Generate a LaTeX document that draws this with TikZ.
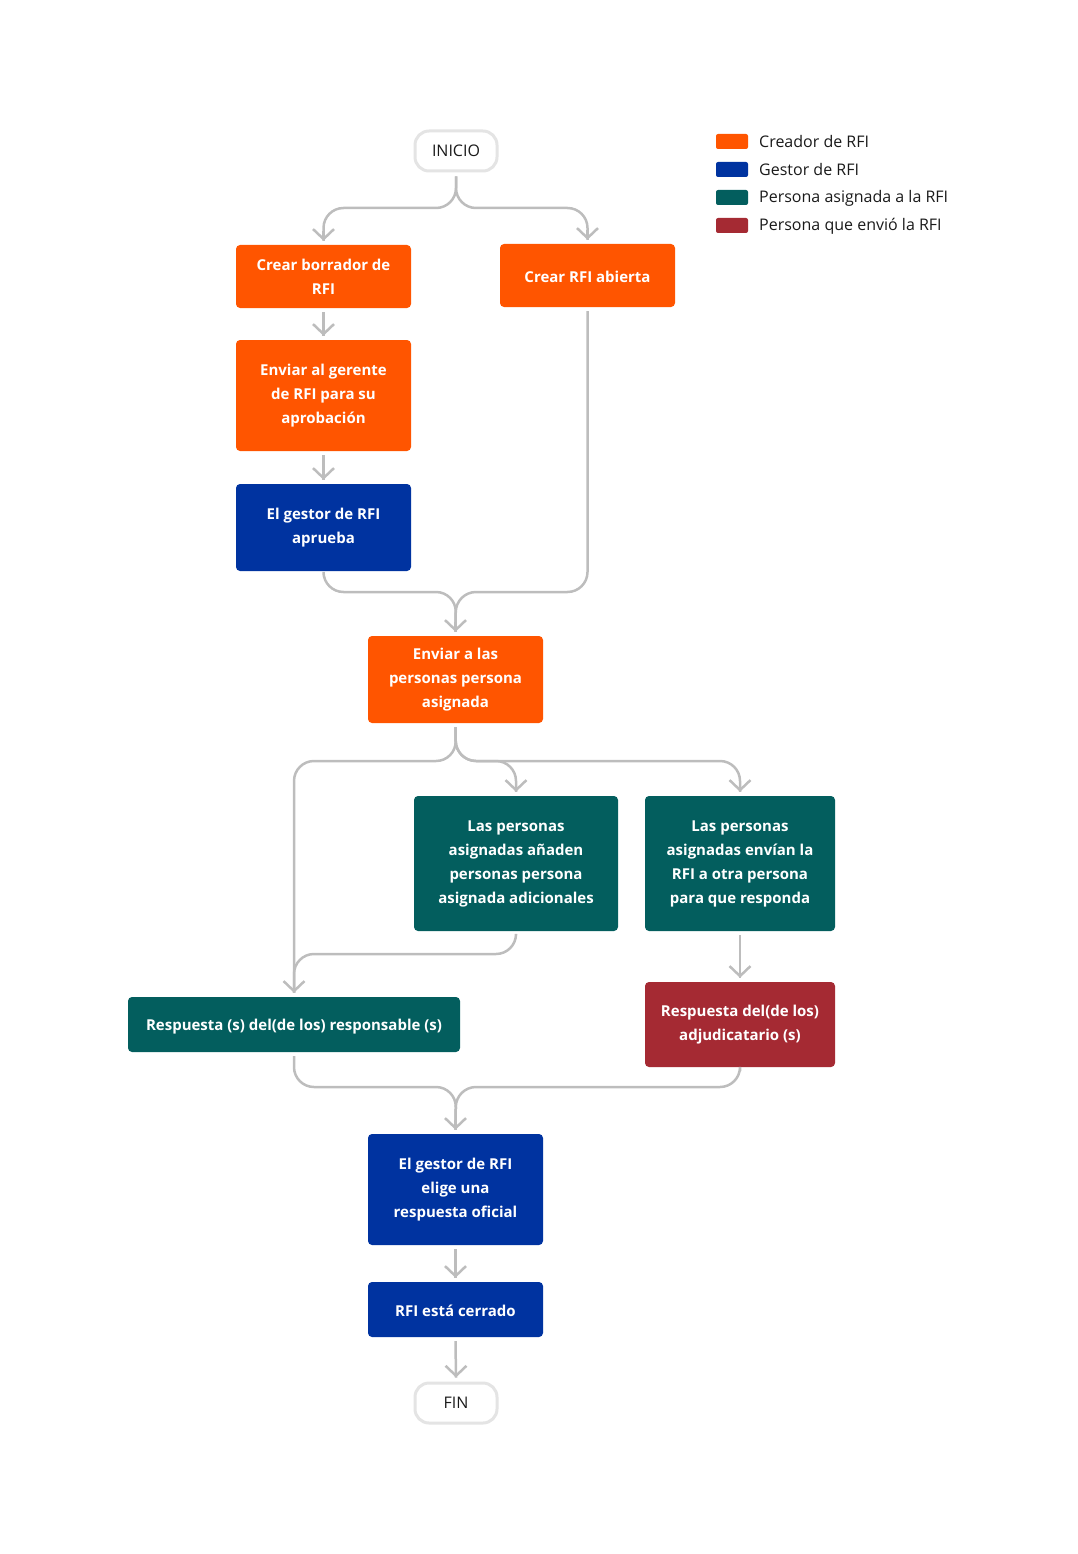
\documentclass[tikz,border=0pt]{standalone}
\usepackage{fontspec}
\setmainfont{Open Sans}
\usetikzlibrary{arrows.meta}
\definecolor{corange}{HTML}{FF5500}
\definecolor{cblue}{HTML}{0033A0}
\definecolor{cteal}{HTML}{035E5E}
\definecolor{cred}{HTML}{A52A33}
\definecolor{cline}{HTML}{BDBDBD}
\definecolor{ctext}{HTML}{1A1A1A}
\definecolor{cterm}{HTML}{E4E4E4}
\tikzset{
  box/.style={rounded corners=4pt, inner sep=0pt, align=center, text=white,
    font=\fontsize{15}{24}\selectfont\bfseries, execute at begin node={\rule{0pt}{15pt}}},
  orangebox/.style={box, fill=corange},
  bluebox/.style={box, fill=cblue},
  tealbox/.style={box, fill=cteal},
  redbox/.style={box, fill=cred},
  term/.style={draw=cterm, line width=3pt, fill=white, rounded corners=14pt,
    minimum width=82pt, minimum height=40pt, text=ctext, font=\fontsize{16}{18}\selectfont},
  conn/.style={draw=cline, line width=2.5pt, rounded corners=20pt},
  tip/.style={draw=cline, line width=2.5pt, sharp corners,
    -{Straight Barb[length=10pt,width=21pt]}},
  swatch/.style={fill=#1, rounded corners=2pt, minimum width=32pt, minimum height=15pt, inner sep=0pt},
  legtext/.style={anchor=west, text=ctext, inner sep=0pt, font=\fontsize{16}{18}\selectfont},
}
\begin{document}
\begin{tikzpicture}[x=1pt,y=-1pt]
\useasboundingbox (0,0) rectangle (1077,1554);
% nodes
\node[term] (inicio) at (456,151) {INICIO};
\node[orangebox, minimum width=175pt, minimum height=63pt] (borrador) at (323.5,276.5) {Crear borrador de\\RFI};
\node[orangebox, minimum width=175pt, minimum height=63pt] (abierta) at (587.5,275.5) {Crear RFI abierta};
\node[orangebox, minimum width=175pt, minimum height=111pt] (enviar) at (323.5,395.5) {Enviar al gerente\\de RFI para su\\aprobación};
\node[bluebox, minimum width=175pt, minimum height=87pt] (aprueba) at (323.5,527.5) {El gestor de RFI\\aprueba};
\node[orangebox, minimum width=175pt, minimum height=87pt] (personas) at (455.5,679.5) {Enviar a las\\personas persona\\asignada};
\node[tealbox, minimum width=204pt, minimum height=135pt] (anaden) at (516,863.5) {Las personas\\asignadas añaden\\personas persona\\asignada adicionales};
\node[tealbox, minimum width=190pt, minimum height=135pt] (envian) at (740,863.5) {Las personas\\asignadas envían la\\RFI a otra persona\\para que responda};
\node[tealbox, minimum width=332pt, minimum height=55pt] (resp) at (294,1024.5) {Respuesta (s) del(de los) responsable (s)};
\node[redbox, minimum width=190pt, minimum height=85pt] (adj) at (740,1024.5) {Respuesta del(de los)\\adjudicatario (s)};
\node[bluebox, minimum width=175pt, minimum height=111pt] (elige) at (455.5,1189.5) {El gestor de RFI\\elige una\\respuesta oficial};
\node[bluebox, minimum width=175pt, minimum height=55pt] (cerrado) at (455.5,1309.5) {RFI está cerrado};
\node[term] (fin) at (456,1403) {FIN};
% legend
\node[swatch=corange] (l1) at (732,141.5) {};
\node[swatch=cblue] (l2) at (732,169.5) {};
\node[swatch=cteal] (l3) at (732,197.5) {};
\node[swatch=cred] (l4) at (732,225.5) {};
\node[legtext] (t1) at (759,142) {Creador de RFI};
\node[legtext] (t2) at (759,170) {Gestor de RFI};
\node[legtext] (t3) at (759,198) {Persona asignada a la RFI};
\node[legtext] (t4) at (759,226) {Persona que envió la RFI};
% end points of connectors (4pt above each target box)
\coordinate (eBor) at ([yshift=4pt]borrador.north);
\coordinate (eAbi) at ([yshift=4pt]abierta.north);
\coordinate (eEnv) at ([yshift=4pt]enviar.north);
\coordinate (eApr) at ([yshift=4pt]aprueba.north);
\coordinate (ePer) at ([yshift=4pt]personas.north);
\coordinate (eAna) at ([yshift=4pt]anaden.north);
\coordinate (eEnn) at ([yshift=4pt]envian.north);
\coordinate (eRes) at ([yshift=4pt]resp.north);
\coordinate (eAdj) at ([yshift=4pt]adj.north);
\coordinate (eEli) at ([yshift=4pt]elige.north);
\coordinate (eCer) at ([yshift=4pt]cerrado.north);
\coordinate (eFin) at ([yshift=4pt]fin.north);
% connector lines
\draw[conn] ([yshift=-4pt]inicio.south) -- (456,208) -| (eBor);
\draw[conn] ([yshift=-4pt]inicio.south) -- (456,208) -| (eAbi);
\draw[conn] ([yshift=-4pt]borrador.south) -- (eEnv);
\draw[conn] ([yshift=-4pt]enviar.south) -- (eApr);
\draw[conn] ([yshift=-4pt]aprueba.south) |- (456,592) -- (ePer);
\draw[conn] ([yshift=-4pt]abierta.south) |- (456,592) -- (ePer);
\draw[conn] ([yshift=-4pt]personas.south) -- (456,761) -| (eRes);
\draw[conn] ([yshift=-4pt]personas.south) -- (456,761) -| (eAna);
\draw[conn] ([yshift=-4pt]personas.south) -- (456,761) -| (eEnn);
\draw[conn] ([yshift=-4pt]anaden.south) |- (294,954) -- (eRes);
\draw[conn] ([yshift=-4pt]envian.south) -- (eAdj);
\draw[conn] ([yshift=-4pt]resp.south) |- (456,1087) -- (eEli);
\draw[conn] ([yshift=-4pt]adj.south) |- (456,1087) -- (eEli);
\draw[conn] ([yshift=-4pt]elige.south) -- (eCer);
\draw[conn] ([yshift=-4pt]cerrado.south) -- (eFin);
% arrow heads
\foreach \e in {eBor,eAbi,eEnv,eApr,ePer,eAna,eEnn,eRes,eAdj,eEli,eCer,eFin}
  \draw[tip] ([yshift=10pt]\e) -- (\e);
\end{tikzpicture}
\end{document}
